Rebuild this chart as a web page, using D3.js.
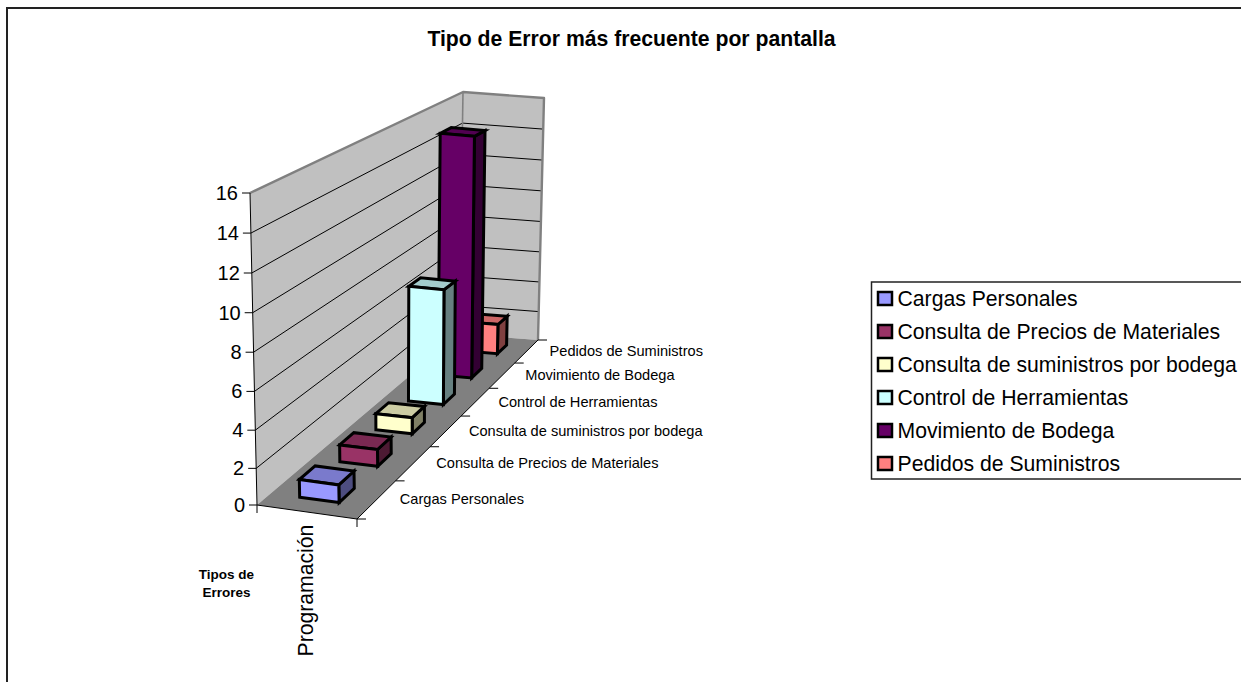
<!DOCTYPE html>
<html>
<head>
<meta charset="utf-8">
<script src="https://cdnjs.cloudflare.com/ajax/libs/d3/7.8.5/d3.min.js"></script>
<style>
    html, body { margin: 0; padding: 0; background: #fff; overflow: hidden; }
    text { font-family: "Liberation Sans", Arial, sans-serif; fill: #000; }
</style>
</head>
<body>
<div id="chart"></div>
<script>
var categories = ["Cargas Personales", "Consulta de Precios de Materiales", "Consulta de suministros por bodega",
    "Control de Herramientas", "Movimiento de Bodega", "Pedidos de Suministros"];
var values = [1, 1, 1, 7, 15, 2];
var colors = ["#9999FF", "#993366", "#FFFFCC", "#CCFFFF", "#660066", "#FF8080"];
var yTicks = [0, 2, 4, 6, 8, 10, 12, 14, 16];

var width = 1241, height = 682;

var svg = d3.select("#chart").append("svg")
    .attr("width", width)
    .attr("height", height);

// corners of the box on screen: floor and the plane at the top of the axis
var floorQuad = [[257, 505], [357, 519], [538, 340], [459, 334]];
var topQuad = [[250, 193], [350, 207], [544, 98], [463, 92]];

// unit square -> quad, gives the perspective of the old excel 3d chart
function homography(q) {
    var dx1 = q[1][0] - q[2][0], dx2 = q[3][0] - q[2][0], sx = q[0][0] - q[1][0] + q[2][0] - q[3][0];
    var dy1 = q[1][1] - q[2][1], dy2 = q[3][1] - q[2][1], sy = q[0][1] - q[1][1] + q[2][1] - q[3][1];
    var det = dx1 * dy2 - dx2 * dy1;
    var g = (sx * dy2 - dx2 * sy) / det;
    var h = (dx1 * sy - sx * dy1) / det;
    var a = q[1][0] - q[0][0] + g * q[1][0], b = q[3][0] - q[0][0] + h * q[3][0];
    var d = q[1][1] - q[0][1] + g * q[1][1], e = q[3][1] - q[0][1] + h * q[3][1];
    return function (u, v) {
        var w = g * u + h * v + 1;
        return [(a * u + b * v + q[0][0]) / w, (d * u + e * v + q[0][1]) / w];
    };
}
var floorAt = homography(floorQuad), topAt = homography(topQuad);

var xScale = d3.scaleLinear().domain([0, 1]).range([0, 1]);
var zScale = d3.scaleBand().domain(categories).range([0, 1]).paddingInner(0.62).paddingOuter(0.31);
var zTick = d3.scaleBand().domain(categories).range([0, 1]);
// tick spacing grows a little going up the wall
var yScale = d3.scalePow().exponent(1.03).domain([0, 16]).range([0, 1]);

function project(u, v, val) {
    var f = floorAt(u, v), t = topAt(u, v), k = yScale(val);
    return [f[0] + (t[0] - f[0]) * k, f[1] + (t[1] - f[1]) * k];
}
var line = d3.line();
function poly(pts) { return line(pts) + "Z"; }
function shade(c, k) { var r = d3.rgb(c); return d3.rgb(r.r * k, r.g * k, r.b * k).formatHex(); }

// outer border, right and bottom sides fall outside the picture
svg.append("rect").attr("x", 7).attr("y", 8).attr("width", 1300).attr("height", 720)
    .attr("fill", "#fff").attr("stroke", "#222").attr("stroke-width", 2);

svg.append("text").attr("x", 631.5).attr("y", 46).attr("text-anchor", "middle")
    .style("font-size", "21.2px").style("font-weight", "bold")
    .text("Tipo de Error más frecuente por pantalla");

// walls and floor
var box = svg.append("g");
box.append("path").attr("fill", "#C0C0C0")
    .attr("d", poly([project(0, 0, 0), project(0, 1, 0), project(0, 1, 16), project(0, 0, 16)]));
box.append("path").attr("fill", "#C0C0C0")
    .attr("d", poly([project(0, 1, 0), project(1, 1, 0), project(1, 1, 16), project(0, 1, 16)]));
box.append("path").attr("fill", "#808080")
    .attr("d", poly([project(0, 0, 0), project(1, 0, 0), project(1, 1, 0), project(0, 1, 0)]));

// gridlines
yTicks.slice(1, -1).forEach(function (t) {
    box.append("path").attr("fill", "none").attr("stroke", "#000").attr("stroke-width", 1)
        .attr("d", line([project(0, 0, t), project(0, 1, t), project(1, 1, t)]));
});

// gray frame of the walls
box.append("path").attr("fill", "none").attr("stroke", "#808080").attr("stroke-width", 2.4)
    .attr("stroke-linejoin", "round")
    .attr("d", line([project(0, 0, 16), project(0, 1, 16), project(1, 1, 16), project(1, 1, 0)]));
box.append("path").attr("fill", "none").attr("stroke", "#808080").attr("stroke-width", 1.6)
    .attr("d", line([project(0, 1, 16), project(0, 1, 0)]));

// axis lines on the floor edges
box.append("path").attr("fill", "none").attr("stroke", "#000").attr("stroke-width", 1)
    .attr("d", line([project(0, 0, 16), project(0, 0, 0), project(1, 0, 0), project(1, 1, 0)]));

// value axis
yTicks.forEach(function (t) {
    var p = project(0, 0, t);
    box.append("line").attr("x1", p[0] - 8).attr("x2", p[0]).attr("y1", p[1]).attr("y2", p[1])
        .attr("stroke", "#000");
    box.append("text").attr("x", p[0] - 12).attr("y", p[1] + 7).attr("text-anchor", "end")
        .style("font-size", "20px").text(t);
});

// depth axis
zTick.domain().concat(["end"]).forEach(function (c, i) {
    var v = i === categories.length ? 1 : zTick(c);
    var p = project(1, v, 0);
    box.append("line").attr("x1", p[0]).attr("x2", p[0] + 9).attr("y1", p[1]).attr("y2", p[1])
        .attr("stroke", "#000");
});
categories.forEach(function (c) {
    var p = project(1, zTick(c) + zTick.bandwidth() / 2, 0);
    box.append("text").attr("x", p[0] + 23).attr("y", p[1] + 5)
        .style("font-size", "14.6px").text(c);
});

// ticks at the two ends of the front edge
[0, 1].forEach(function (u) {
    var p = project(u, 0, 0);
    box.append("line").attr("x1", p[0]).attr("x2", p[0]).attr("y1", p[1]).attr("y2", p[1] + 8)
        .attr("stroke", "#000");
});

// bars, far ones first
var bars = svg.append("g");
var u0 = xScale(0.3), u1 = xScale(0.7);
d3.range(categories.length - 1, -1, -1).forEach(function (i) {
    var v0 = zScale(categories[i]), v1 = v0 + zScale.bandwidth(), val = values[i];
    var g = bars.append("g").attr("stroke", "#000").attr("stroke-width", 3).attr("stroke-linejoin", "miter");
    g.append("path").attr("fill", shade(colors[i], 0.5))
        .attr("d", poly([project(u1, v0, 0), project(u1, v1, 0), project(u1, v1, val), project(u1, v0, val)]));
    g.append("path").attr("fill", shade(colors[i], 0.8))
        .attr("d", poly([project(u0, v0, val), project(u1, v0, val), project(u1, v1, val), project(u0, v1, val)]));
    g.append("path").attr("fill", colors[i])
        .attr("d", poly([project(u0, v0, 0), project(u1, v0, 0), project(u1, v0, val), project(u0, v0, val)]));
});

// axis names
svg.append("text").attr("transform", "translate(312.5,656.5) rotate(-90)")
    .style("font-size", "21.2px").text("Programación");
var names = svg.append("text").attr("text-anchor", "middle").style("font-size", "13.5px").style("font-weight", "bold");
names.append("tspan").attr("x", 226.5).attr("y", 579).text("Tipos de");
names.append("tspan").attr("x", 226.5).attr("y", 597).text("Errores");

// legend
var legend = svg.append("g");
legend.append("rect").attr("x", 871.5).attr("y", 282).attr("width", 400).attr("height", 197)
    .attr("fill", "#fff").attr("stroke", "#222").attr("stroke-width", 1.5);
var rows = legend.selectAll("g.row").data(categories).enter().append("g").attr("class", "row")
    .attr("transform", function (d, i) { return "translate(878," + (298 + i * 33) + ")"; });
rows.append("rect").attr("x", 0).attr("y", -6).attr("width", 14).attr("height", 13)
    .attr("fill", function (d, i) { return colors[i]; })
    .attr("stroke", "#000").attr("stroke-width", 2.5);
rows.append("text").attr("x", 19.5).attr("y", 7.5).style("font-size", "21.2px").text(function (d) { return d; });
</script>
</body>
</html>
